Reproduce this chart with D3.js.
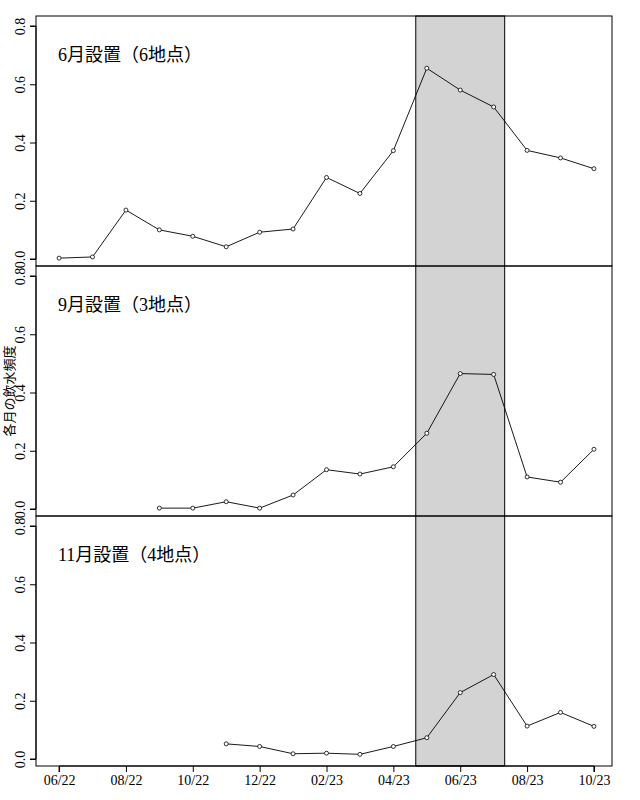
<!DOCTYPE html>
<html><head><meta charset="utf-8">
<script src="https://cdn.jsdelivr.net/npm/d3@7"></script>
<style>body{margin:0;background:#fff}</style></head>
<body><svg id="c" width="640" height="800"></svg>
<script>
const months = ["06/22","07/22","08/22","09/22","10/22","11/22","12/22","01/23","02/23","03/23","04/23","05/23","06/23","07/23","08/23","09/23","10/23"];
const tickLabels = ["06/22","08/22","10/22","12/22","02/23","04/23","06/23","08/23","10/23"];
const titles = ["6月設置（6地点）","9月設置（3地点）","11月設置（4地点）"];
const startIdx = [0,3,5];
const june = [0.003,0.007,0.168,0.10,0.078,0.042,0.092,0.103,0.28,0.225,0.372,0.655,0.58,0.522,0.373,0.347,0.31];
const sept = [0.003,0.003,0.025,0.003,0.048,0.135,0.12,0.145,0.26,0.465,0.462,0.11,0.092,0.205];
const nov = [0.052,0.043,0.018,0.02,0.016,0.043,0.073,0.228,0.29,0.113,0.16,0.112];
const series = [june, sept, nov];
const shade = [10.67, 13.33];
const yTicks = [0,0.2,0.4,0.6,0.8];

const svg = d3.select("#c");
const font = "'Liberation Serif','Noto Sans CJK JP',serif";
const L=36,R=612,T=16,PH=250;
const x = d3.scaleLinear().domain([-0.69,16.54]).range([L,R]);
svg.append("rect").attr("x",x(shade[0])).attr("y",T).attr("width",x(shade[1])-x(shade[0])).attr("height",PH*3)
  .attr("fill","#d3d3d3").attr("stroke","#000").attr("stroke-width",1);
series.forEach((vals,p)=>{
  const top=T+p*PH;
  const y=d3.scaleLinear().domain([0,0.8]).range([top+243,top+10]);
  svg.append("rect").attr("x",L).attr("y",top).attr("width",R-L).attr("height",PH).attr("fill","none").attr("stroke","#000");
  const g=svg.append("g").attr("transform",`translate(${L},0)`);
  g.call(d3.axisLeft(y).tickValues(yTicks).tickFormat(d3.format(".1f")).tickSize(6).tickPadding(3));
  g.select(".domain").attr("d",`M-6,${y(0)}H0V${y(0.8)}H-6`).attr("stroke","#000");
  g.selectAll(".tick text").attr("font-family",font).attr("font-size",14).attr("fill","#000")
   .attr("text-anchor","middle").attr("x",null).attr("dy",null)
   .attr("transform","translate(-14,0) rotate(-90)").attr("dominant-baseline","middle");
  const pts=vals.map((v,i)=>[startIdx[p]+i,v]);
  const line=d3.line().x(d=>x(d[0])).y(d=>y(d[1]));
  svg.append("path").attr("d",line(pts)).attr("fill","none").attr("stroke","#000").attr("stroke-width",0.9);
  svg.selectAll(null).data(pts).enter().append("circle").attr("cx",d=>x(d[0])).attr("cy",d=>y(d[1])).attr("r",2)
    .attr("fill","#fff").attr("stroke","#000").attr("stroke-width",0.8);
  svg.append("text").attr("x",58).attr("y",top+45).attr("font-family",font).attr("font-size",18).text(titles[p]);
});
const xb=svg.append("g").attr("transform",`translate(0,${T+3*PH})`)
 .call(d3.axisBottom(x).tickValues(tickLabels.map(t=>months.indexOf(t))).tickFormat(i=>months[i]).tickSize(6));
xb.select(".domain").attr("d",`M${x(0)},6V0H${x(16)}V6`);
xb.selectAll(".tick text").attr("font-family",font).attr("font-size",14).attr("fill","#000");
svg.append("text").attr("transform","translate(14,391) rotate(-90)").attr("text-anchor","middle")
 .attr("font-family","'Noto Sans CJK JP',sans-serif").attr("font-size",13).text("各月の飲水頻度");
</script></body></html>
